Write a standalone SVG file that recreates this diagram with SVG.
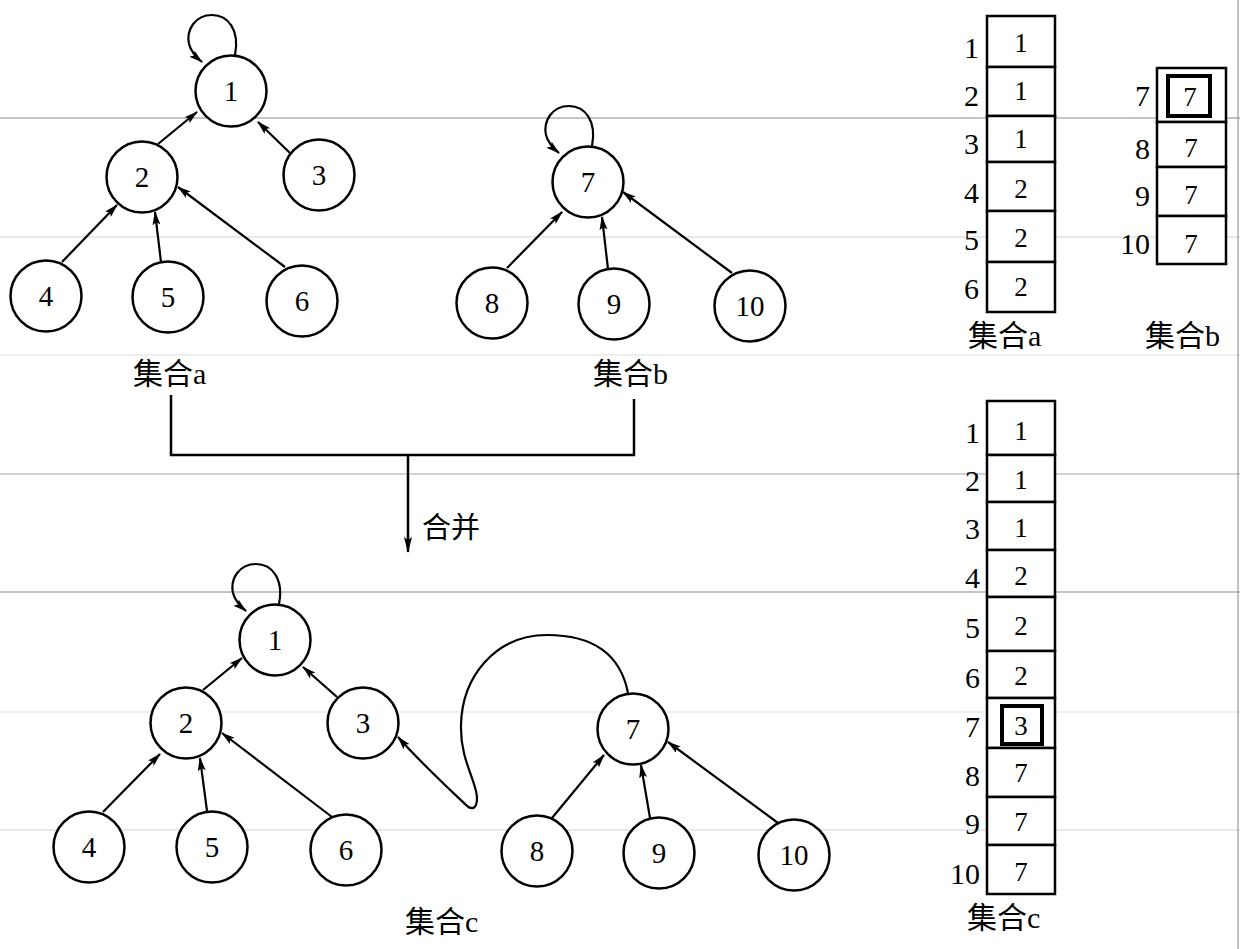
<svg xmlns="http://www.w3.org/2000/svg" width="1240" height="949" viewBox="0 0 1240 949">
<style>
.bg{fill:#fff}
.scan{stroke-width:1.2;fill:none}
.node circle{fill:#fff;stroke:#000;stroke-width:2.5}
.node text,.num{font-family:"Liberation Serif","Times New Roman",serif;font-size:29px;fill:#000;text-anchor:middle}
.edge{stroke:#000;stroke-width:2.2;fill:none;marker-end:url(#ah)}
.cell{fill:#fff;stroke:#000;stroke-width:2.5}
.hl{fill:none;stroke:#000;stroke-width:4}
.val{font-family:"Liberation Serif","Times New Roman",serif;font-size:27px;fill:#000;text-anchor:middle}
.idx{font-family:"Liberation Serif","Times New Roman",serif;font-size:30px;fill:#000;text-anchor:end}
.cap{font-family:"Liberation Serif","Noto Sans CJK SC",serif;font-size:30px;fill:#000}
.wire{stroke:#000;stroke-width:2.5;fill:none}
</style>
<defs>
<marker id="ah" viewBox="0 0 14 8" refX="13" refY="4" markerWidth="14" markerHeight="8" markerUnits="userSpaceOnUse" orient="auto">
<path d="M0,0 L14,4 L0,8 L3,4 z" fill="#000"/>
</marker>
<marker id="ah2" viewBox="0 0 16 8" refX="15" refY="4" markerWidth="17" markerHeight="8" markerUnits="userSpaceOnUse" orient="auto">
<path d="M0,0 L16,4 L0,8 L3,4 z" fill="#000"/>
</marker>
</defs>
<rect class="bg" x="0" y="0" width="1240" height="949"/>
<g id="scan-lines">
<line class="scan" x1="0" y1="118" x2="1240" y2="118" stroke="#8a8a8a"/>
<line class="scan" x1="0" y1="237" x2="1240" y2="237" stroke="#d4d4d4"/>
<line class="scan" x1="0" y1="355" x2="1240" y2="355" stroke="#dedede"/>
<line class="scan" x1="0" y1="474" x2="1240" y2="474" stroke="#a8a8a8"/>
<line class="scan" x1="0" y1="592" x2="1240" y2="592" stroke="#8a8a8a"/>
<line class="scan" x1="0" y1="712" x2="1240" y2="712" stroke="#dedede"/>
<line class="scan" x1="0" y1="830" x2="1240" y2="830" stroke="#d0d0d0"/>
<line class="scan" x1="1238" y1="0" x2="1238" y2="949" stroke="#9a9a9a"/>
</g>

<g id="connectors">
<!-- top set a -->
<path class="edge" d="M235 55 C240 30,228 15,212 15 C195 15,186 30,189 44 C191 52,196 57,202 62"/>
<line class="edge" x1="158" y1="144" x2="197" y2="112"/>
<line class="edge" x1="290" y1="153" x2="258" y2="122"/>
<line class="edge" x1="62" y1="262" x2="117" y2="205"/>
<line class="edge" x1="161" y1="262" x2="155" y2="212"/>
<line class="edge" x1="285" y1="267" x2="178" y2="187"/>
<!-- top set b -->
<path class="edge" d="M592 146 C597 121,585 106,569 106 C552 106,543 121,546 135 C548 143,553 148,559 153"/>
<line class="edge" x1="507" y1="268" x2="562" y2="212"/>
<line class="edge" x1="608" y1="269" x2="602" y2="217"/>
<line class="edge" x1="732" y1="273" x2="623" y2="192"/>
<!-- merge bracket -->
<polyline class="wire" points="171,395 171,455 634,455 634,399"/>
<line class="wire" x1="408" y1="455" x2="408" y2="552" marker-end="url(#ah2)"/>
<!-- bottom set c -->
<path class="edge" d="M279 604 C284 579,272 564,256 564 C239 564,230 579,233 593 C235 601,240 606,246 611"/>
<line class="edge" x1="203" y1="690" x2="242" y2="658"/>
<line class="edge" x1="337" y1="697" x2="303" y2="667"/>
<line class="edge" x1="103" y1="812" x2="160" y2="754"/>
<line class="edge" x1="207" y1="811" x2="200" y2="758"/>
<line class="edge" x1="332" y1="817" x2="222" y2="733"/>
<line class="edge" x1="552" y1="818" x2="604" y2="755"/>
<line class="edge" x1="650" y1="818" x2="641" y2="765"/>
<line class="edge" x1="778" y1="823" x2="668" y2="742"/>
<path class="edge" d="M628 693 C620 652,590 635,547 635 C495 635,462 677,461 725 C460 760,477 782,477 798 C477 810,471 810,466 805 C445 785,420 762,398 737"/>
</g>

<g id="n-a1" class="node"><circle cx="231" cy="91" r="35.5"/><text x="231" y="101">1</text></g>
<g id="n-a2" class="node"><circle cx="142" cy="177" r="35.5"/><text x="142" y="187">2</text></g>
<g id="n-a3" class="node"><circle cx="319" cy="175" r="35.5"/><text x="319" y="185">3</text></g>
<g id="n-a4" class="node"><circle cx="46" cy="296" r="35.5"/><text x="46" y="306">4</text></g>
<g id="n-a5" class="node"><circle cx="168" cy="297" r="35.5"/><text x="168" y="307">5</text></g>
<g id="n-a6" class="node"><circle cx="302" cy="301" r="35.5"/><text x="302" y="311">6</text></g>
<g id="lbl-a"><text class="cap" x="133" y="384">集合a</text></g>

<g id="n-b7" class="node"><circle cx="588" cy="182" r="35.5"/><text x="588" y="192">7</text></g>
<g id="n-b8" class="node"><circle cx="492" cy="303" r="35.5"/><text x="492" y="313">8</text></g>
<g id="n-b9" class="node"><circle cx="614" cy="304" r="35.5"/><text x="614" y="314">9</text></g>
<g id="n-b10" class="node"><circle cx="750" cy="306" r="35.5"/><text x="750" y="316">10</text></g>
<g id="lbl-b"><text class="cap" x="593" y="384">集合b</text></g>

<g id="lbl-merge"><text class="cap" x="422" y="538" style="font-size:29px">合并</text></g>

<g id="n-c1" class="node"><circle cx="275" cy="640" r="35.5"/><text x="275" y="650">1</text></g>
<g id="n-c2" class="node"><circle cx="186" cy="723" r="35.5"/><text x="186" y="733">2</text></g>
<g id="n-c3" class="node"><circle cx="363" cy="723" r="35.5"/><text x="363" y="733">3</text></g>
<g id="n-c4" class="node"><circle cx="89" cy="847" r="35.5"/><text x="89" y="857">4</text></g>
<g id="n-c5" class="node"><circle cx="212" cy="847" r="35.5"/><text x="212" y="857">5</text></g>
<g id="n-c6" class="node"><circle cx="346" cy="850" r="35.5"/><text x="346" y="860">6</text></g>
<g id="n-c7" class="node"><circle cx="633" cy="729" r="35.5"/><text x="633" y="739">7</text></g>
<g id="n-c8" class="node"><circle cx="537" cy="851" r="35.5"/><text x="537" y="861">8</text></g>
<g id="n-c9" class="node"><circle cx="659" cy="853" r="35.5"/><text x="659" y="863">9</text></g>
<g id="n-c10" class="node"><circle cx="794" cy="855" r="35.5"/><text x="794" y="865">10</text></g>
<g id="lbl-c"><text class="cap" x="405" y="932">集合c</text></g>

<g id="array-a">
<rect class="cell" x="987" y="16" width="68" height="51"/>
<rect class="cell" x="987" y="67" width="68" height="49"/>
<rect class="cell" x="987" y="116" width="68" height="46"/>
<rect class="cell" x="987" y="162" width="68" height="49"/>
<rect class="cell" x="987" y="211" width="68" height="51"/>
<rect class="cell" x="987" y="262" width="68" height="50"/>
<text class="val" x="1021" y="52">1</text>
<text class="val" x="1021" y="100">1</text>
<text class="val" x="1021" y="148">1</text>
<text class="val" x="1021" y="198">2</text>
<text class="val" x="1021" y="247">2</text>
<text class="val" x="1021" y="296">2</text>
<text class="idx" x="979" y="58">1</text>
<text class="idx" x="979" y="106">2</text>
<text class="idx" x="979" y="154">3</text>
<text class="idx" x="979" y="203">4</text>
<text class="idx" x="979" y="250">5</text>
<text class="idx" x="979" y="299">6</text>
<text class="cap" x="968" y="346">集合a</text>
</g>

<g id="array-b">
<rect class="cell" x="1157" y="68" width="69" height="54"/>
<rect class="cell" x="1157" y="122" width="69" height="45"/>
<rect class="cell" x="1157" y="167" width="69" height="49"/>
<rect class="cell" x="1157" y="216" width="69" height="48"/>
<rect class="hl" x="1168" y="76" width="42" height="40"/>
<text class="val" x="1190" y="106">7</text>
<text class="val" x="1191" y="157">7</text>
<text class="val" x="1191" y="204">7</text>
<text class="val" x="1191" y="253">7</text>
<text class="idx" x="1150" y="106">7</text>
<text class="idx" x="1150" y="159">8</text>
<text class="idx" x="1150" y="206">9</text>
<text class="idx" x="1150" y="254">10</text>
<text class="cap" x="1145" y="346">集合b</text>
</g>

<g id="array-c">
<rect class="cell" x="987" y="401" width="68" height="54"/>
<rect class="cell" x="987" y="455" width="68" height="47"/>
<rect class="cell" x="987" y="502" width="68" height="48"/>
<rect class="cell" x="987" y="550" width="68" height="47"/>
<rect class="cell" x="987" y="597" width="68" height="54"/>
<rect class="cell" x="987" y="651" width="68" height="47"/>
<rect class="cell" x="987" y="698" width="68" height="50"/>
<rect class="cell" x="987" y="748" width="68" height="49"/>
<rect class="cell" x="987" y="797" width="68" height="48"/>
<rect class="cell" x="987" y="845" width="68" height="49"/>
<rect class="hl" x="1002" y="706" width="40" height="38"/>
<text class="val" x="1021" y="440">1</text>
<text class="val" x="1021" y="489">1</text>
<text class="val" x="1021" y="537">1</text>
<text class="val" x="1021" y="585">2</text>
<text class="val" x="1021" y="635">2</text>
<text class="val" x="1021" y="685">2</text>
<text class="val" x="1021" y="735">3</text>
<text class="val" x="1021" y="782">7</text>
<text class="val" x="1021" y="831">7</text>
<text class="val" x="1021" y="881">7</text>
<text class="idx" x="980" y="443">1</text>
<text class="idx" x="980" y="491">2</text>
<text class="idx" x="980" y="539">3</text>
<text class="idx" x="980" y="588">4</text>
<text class="idx" x="980" y="638">5</text>
<text class="idx" x="980" y="688">6</text>
<text class="idx" x="980" y="737">7</text>
<text class="idx" x="980" y="786">8</text>
<text class="idx" x="980" y="834">9</text>
<text class="idx" x="980" y="884">10</text>
<text class="cap" x="967" y="928">集合c</text>
</g>
</svg>
